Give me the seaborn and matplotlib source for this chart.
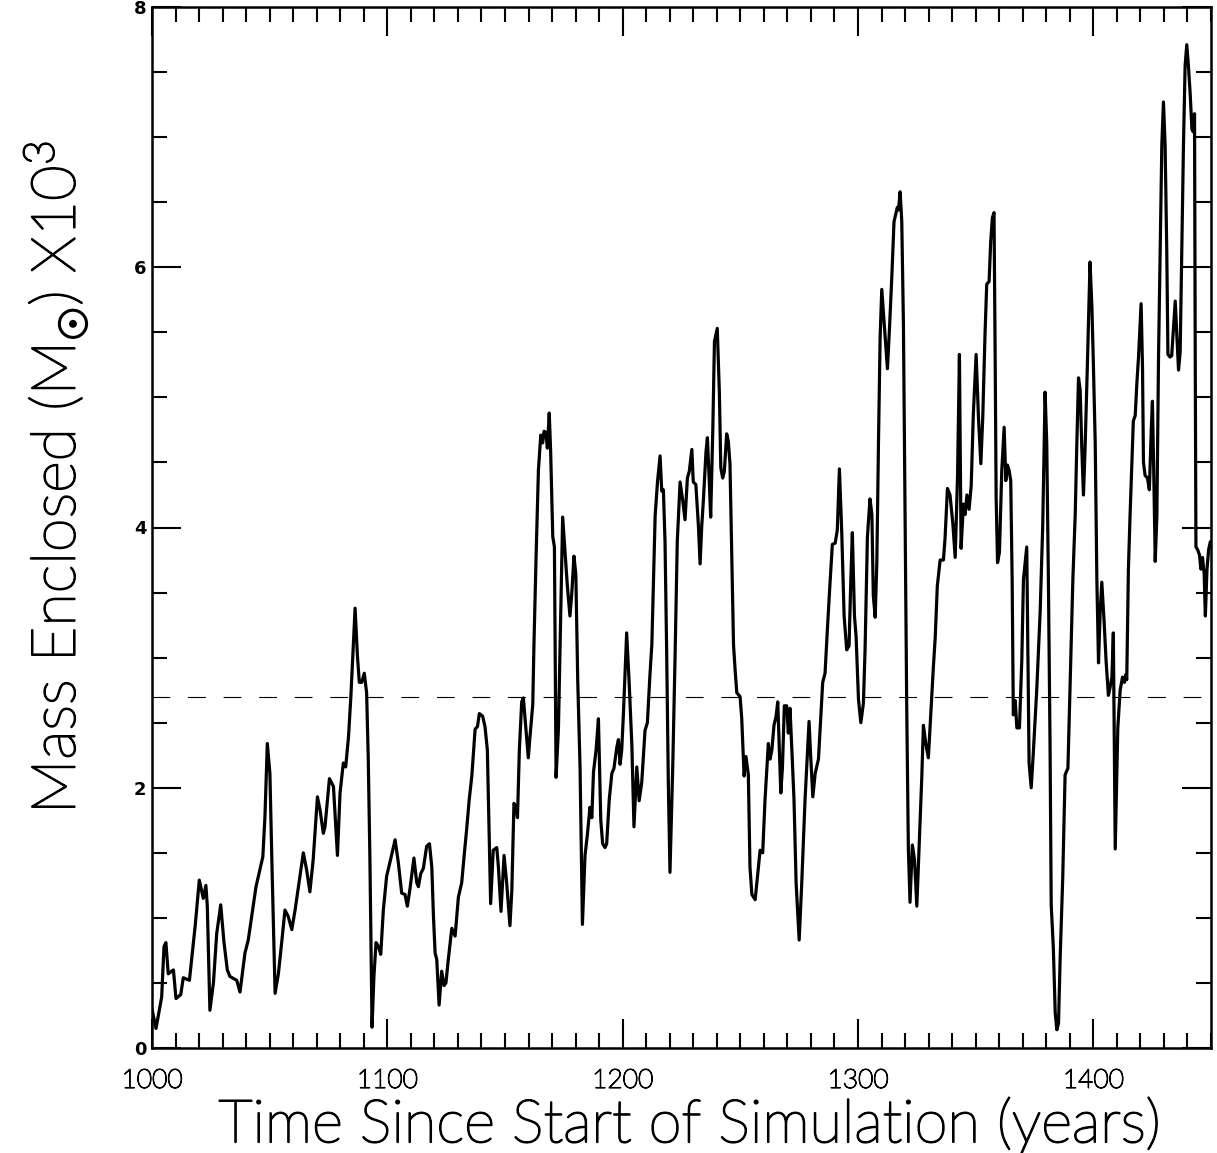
import numpy as np
import pandas as pd
import matplotlib
matplotlib.use("Agg")
import matplotlib.pyplot as plt
import matplotlib.patheffects as pe
from matplotlib.ticker import MultipleLocator
import seaborn as sns

# ---- data ----
years = [
    1000.0, 1001.7, 1004.1, 1005.1, 1005.9, 1006.9, 1009.1, 1010.2, 1012.2, 1013.3,
    1015.9, 1018.3, 1020.1, 1021.8, 1022.9, 1023.5, 1024.6, 1026.1, 1027.5, 1029.2,
    1030.6, 1032.0, 1033.1, 1036.0, 1037.4, 1039.5, 1040.9, 1044.2, 1047.1, 1048.0,
    1049.0, 1050.1, 1051.0,
    1052.3, 1053.7, 1055.1, 1056.5, 1057.9, 1059.4, 1060.8, 1064.3, 1065.7, 1067.1,
    1068.5, 1070.3, 1071.4, 1072.8, 1073.5, 1075.4, 1077.1, 1078.8, 1079.9, 1081.3,
    1082.3, 1083.5, 1084.5, 1086.3, 1087.3, 1088.1, 1089.1, 1090.2, 1091.2, 1091.9,
    1092.6, 1093.5, 1094.3, 1095.2, 1096.2, 1097.2, 1098.3, 1099.7,
    1101.4, 1103.3, 1104.7, 1106.1, 1107.5, 1108.5, 1109.6, 1111.3, 1112.5, 1113.2,
    1114.2, 1115.3, 1116.7, 1117.9, 1118.9, 1119.6, 1120.3, 1121.0, 1122.0, 1123.1,
    1124.1, 1124.9, 1125.9, 1127.4, 1128.8, 1130.2, 1131.6, 1132.6, 1133.7, 1134.8,
    1135.9, 1137.3, 1138.3, 1139.1, 1140.5, 1141.5, 1142.5, 1143.4, 1143.9, 1145.0,
    1146.5, 1147.2, 1148.3, 1149.6, 1150.7,
    1152.1, 1152.9, 1153.8, 1154.7, 1155.3, 1156.1, 1157.1, 1157.8, 1158.9, 1159.9,
    1160.6, 1161.8, 1162.3, 1163.2, 1164.2, 1165.2, 1166.0, 1166.6, 1167.4, 1168.0,
    1168.8, 1169.4, 1170.3, 1171.0, 1171.7, 1172.7, 1173.4, 1174.5, 1175.5, 1176.5,
    1177.6, 1178.4, 1179.3, 1180.1, 1180.9, 1181.9, 1182.9, 1184.0, 1185.0, 1186.1,
    1186.9, 1187.6, 1188.7, 1189.7, 1190.7, 1191.5, 1192.5, 1193.2, 1194.3, 1195.4,
    1196.3, 1197.5, 1198.2, 1198.9, 1199.6, 1200.3, 1201.7, 1202.7,
    1203.9, 1204.8, 1206.0, 1207.0, 1208.1, 1209.5, 1210.5, 1211.6, 1212.4, 1213.1,
    1213.8, 1214.8, 1215.9, 1216.6, 1217.3, 1218.0, 1218.7, 1219.4, 1220.1, 1221.3,
    1222.3, 1223.2, 1224.4, 1225.5, 1226.5, 1227.5, 1228.3, 1229.4, 1230.0, 1231.1,
    1232.2, 1232.9, 1233.6, 1234.3, 1235.4, 1236.0, 1236.7, 1237.4, 1238.3, 1239.0,
    1239.7, 1240.2, 1241.1, 1241.7, 1242.5, 1243.2, 1244.2, 1244.9, 1245.6, 1246.4,
    1247.1, 1247.8, 1248.5, 1249.9, 1250.6, 1251.6, 1252.4, 1253.4,
    1254.1, 1254.9, 1256.3, 1257.3, 1258.4, 1259.5, 1260.5, 1261.9, 1262.6, 1263.4,
    1264.3, 1265.2, 1265.9, 1266.6, 1267.2, 1267.9, 1268.7, 1269.7, 1270.4, 1271.1,
    1271.9, 1272.8, 1273.7, 1275.0, 1276.1, 1277.5, 1279.2, 1279.9, 1280.8, 1281.8,
    1283.2, 1284.2, 1285.0, 1286.0, 1287.0, 1288.1, 1289.1, 1290.3, 1291.2, 1292.1,
    1293.1, 1294.1, 1295.2, 1296.2, 1296.9, 1297.6, 1298.5, 1299.2, 1300.2, 1301.2,
    1302.3, 1303.0, 1304.0, 1305.1,
    1305.9, 1306.5, 1307.3, 1308.0, 1308.7, 1309.4, 1310.1, 1310.8, 1311.5, 1312.5,
    1313.3, 1314.4, 1315.3, 1316.2, 1316.7, 1317.2, 1317.9, 1318.6, 1319.3, 1320.0,
    1320.7, 1321.4, 1322.1, 1323.1, 1324.0, 1325.0, 1326.1, 1327.1, 1327.8, 1328.8,
    1329.9, 1330.9, 1332.0, 1332.8, 1333.7, 1334.9, 1336.3, 1337.0, 1338.0, 1339.1,
    1340.3, 1341.3, 1342.3, 1343.1, 1343.8, 1344.8, 1345.5, 1346.3, 1347.2, 1348.1,
    1349.0, 1350.2, 1351.2, 1352.2, 1353.0, 1354.0, 1354.7, 1355.7, 1356.4, 1357.1,
    1357.8,
    1358.3, 1358.7, 1359.3, 1360.1, 1361.1, 1362.1, 1362.8, 1363.5, 1364.2, 1364.9,
    1365.5, 1366.0, 1366.8, 1367.5, 1368.6, 1369.6, 1370.3, 1371.7, 1372.2, 1372.7,
    1373.6, 1374.5, 1376.0, 1377.4, 1378.5, 1379.5, 1380.2, 1380.9, 1381.6, 1382.1,
    1383.0, 1383.8, 1384.5, 1385.2, 1385.9, 1387.0, 1388.0, 1389.2, 1390.1, 1391.3,
    1392.3, 1393.0, 1393.7, 1394.4, 1395.1, 1395.8, 1396.5, 1397.5, 1398.6, 1399.4,
    1400.0, 1400.8, 1401.5, 1402.2, 1402.9, 1403.6, 1404.6, 1405.4, 1406.4, 1407.1,
    1407.9, 1408.5,
    1409.3, 1410.4, 1411.4, 1412.4, 1413.2, 1413.8, 1414.2, 1414.9, 1415.6, 1416.4,
    1417.0, 1417.8, 1418.5, 1419.2, 1420.3, 1420.9, 1421.3, 1422.0, 1423.0, 1423.8,
    1424.6, 1425.1, 1425.6, 1426.3, 1427.0, 1427.7, 1428.4, 1429.1, 1429.8, 1430.5,
    1431.2, 1431.7, 1432.6, 1433.3, 1434.0, 1434.8, 1435.5, 1436.2, 1436.9, 1437.6,
    1438.3, 1439.0, 1439.7, 1440.4, 1441.1, 1441.9, 1442.5, 1443.0, 1443.3, 1443.6,
    1444.3, 1445.1, 1445.7, 1446.4, 1447.1, 1447.6, 1448.3, 1449.0, 1449.7,
]

mass = [
    0.30, 0.15, 0.39, 0.78, 0.81, 0.57, 0.60, 0.38, 0.41, 0.54,
    0.52, 0.93, 1.29, 1.15, 1.25, 1.09, 0.29, 0.50, 0.88, 1.10,
    0.81, 0.60, 0.55, 0.52, 0.43, 0.73, 0.83, 1.24, 1.47, 1.78,
    2.34, 2.11, 1.39,
    0.42, 0.57, 0.81, 1.06, 1.01, 0.91, 1.06, 1.50, 1.37, 1.20,
    1.45, 1.93, 1.83, 1.65, 1.70, 2.07, 2.01, 1.48, 1.96, 2.19,
    2.16, 2.39, 2.70, 3.38, 3.01, 2.81, 2.81, 2.88, 2.73, 2.22,
    1.45, 0.16, 0.55, 0.81, 0.78, 0.72, 1.06, 1.32,
    1.45, 1.60, 1.42, 1.19, 1.18, 1.09, 1.22, 1.46, 1.27, 1.24,
    1.34, 1.38, 1.55, 1.57, 1.39, 1.01, 0.73, 0.68, 0.33, 0.59,
    0.48, 0.50, 0.68, 0.92, 0.86, 1.16, 1.27, 1.47, 1.68, 1.91,
    2.09, 2.45, 2.47, 2.57, 2.55, 2.47, 2.29, 1.55, 1.11, 1.52,
    1.54, 1.39, 1.05, 1.48, 1.27,
    0.94, 1.21, 1.88, 1.85, 1.77, 2.29, 2.66, 2.69, 2.45, 2.23,
    2.39, 2.64, 3.10, 3.77, 4.44, 4.71, 4.65, 4.74, 4.73, 4.61,
    4.88, 4.58, 3.93, 3.85, 2.08, 2.45, 3.10, 4.08, 3.82, 3.55,
    3.32, 3.50, 3.78, 3.64, 2.83, 2.15, 0.95, 1.48, 1.64, 1.85,
    1.77, 2.12, 2.29, 2.53, 1.75, 1.57, 1.54, 1.57, 1.91, 2.11,
    2.15, 2.31, 2.37, 2.18, 2.29, 2.56, 3.19, 2.83,
    2.33, 1.70, 2.16, 1.90, 2.04, 2.44, 2.50, 2.87, 3.10, 3.61,
    4.09, 4.35, 4.55, 4.28, 4.29, 3.89, 3.04, 2.04, 1.35, 2.18,
    3.04, 3.89, 4.35, 4.21, 4.06, 4.38, 4.43, 4.60, 4.35, 4.33,
    4.01, 3.72, 4.01, 4.21, 4.58, 4.69, 4.40, 4.08, 4.75, 5.43,
    5.49, 5.53, 5.03, 4.46, 4.38, 4.43, 4.72, 4.66, 4.49, 3.75,
    3.10, 2.90, 2.73, 2.70, 2.53, 2.09, 2.24, 2.10,
    1.39, 1.18, 1.14, 1.32, 1.52, 1.50, 1.91, 2.34, 2.22, 2.29,
    2.48, 2.55, 2.66, 2.29, 1.96, 2.16, 2.63, 2.63, 2.42, 2.61,
    2.29, 1.91, 1.27, 0.83, 1.27, 1.91, 2.51, 2.24, 1.93, 2.11,
    2.22, 2.55, 2.81, 2.88, 3.22, 3.57, 3.87, 3.88, 3.98, 4.45,
    3.96, 3.32, 3.06, 3.09, 3.57, 3.96, 3.32, 3.16, 2.68, 2.50,
    2.65, 3.06, 3.93, 4.22,
    4.10, 3.48, 3.31, 3.73, 4.65, 5.46, 5.83, 5.65, 5.46, 5.22,
    5.50, 5.94, 6.35, 6.42, 6.46, 6.44, 6.58, 6.35, 5.57, 4.10,
    2.63, 1.53, 1.12, 1.56, 1.45, 1.09, 1.60, 2.08, 2.48, 2.34,
    2.23, 2.56, 2.92, 3.15, 3.55, 3.75, 3.75, 3.92, 4.30, 4.25,
    4.03, 3.77, 4.40, 5.33, 3.84, 4.18, 4.10, 4.25, 4.14, 4.32,
    4.87, 5.33, 4.84, 4.49, 4.84, 5.50, 5.87, 5.89, 6.20, 6.38,
    6.42,
    5.27, 4.23, 3.73, 3.81, 4.44, 4.77, 4.36, 4.48, 4.44, 4.36,
    3.60, 2.56, 2.67, 2.46, 2.46, 2.98, 3.60, 3.85, 2.98, 2.19,
    2.00, 2.27, 2.77, 3.35, 4.02, 5.04, 4.65, 3.60, 2.35, 1.10,
    0.77, 0.27, 0.14, 0.19, 0.69, 1.31, 2.10, 2.15, 2.77, 3.60,
    4.10, 4.65, 5.15, 5.06, 4.61, 4.25, 4.61, 5.27, 6.04, 5.69,
    5.27, 4.65, 3.60, 2.96, 3.35, 3.58, 3.27, 2.98, 2.71, 2.77,
    2.85, 3.19,
    1.53, 2.46, 2.75, 2.85, 2.81, 2.87, 2.83, 3.68, 4.09, 4.50,
    4.82, 4.86, 5.11, 5.31, 5.72, 5.23, 4.50, 4.40, 4.38, 4.29,
    4.74, 4.97, 4.50, 3.74, 4.09, 5.31, 6.13, 6.94, 7.27, 6.94,
    6.13, 5.33, 5.31, 5.32, 5.52, 5.74, 5.47, 5.21, 5.35, 6.13,
    6.94, 7.55, 7.71, 7.55, 7.35, 7.06, 7.04, 7.18, 5.31, 3.85,
    3.83, 3.79, 3.68, 3.77, 3.64, 3.32, 3.68, 3.83, 3.89,
]

threshold = 2.7
xtick_values = [1000, 1100, 1200, 1300, 1400]
ytick_values = [0, 2, 4, 6, 8]
xlabel_text = "Time Since Start of Simulation (years)"
ylabel_text = r"Mass Enclosed (M$_{\odot}$) X10$^{\mathrm{3}}$"

df = pd.DataFrame({"year": years, "mass": mass})

# ---- style ----
sns.set_style("ticks")
plt.rcParams["font.family"] = ["Lato", "DejaVu Sans"]
plt.rcParams["mathtext.fontset"] = "custom"
plt.rcParams["mathtext.rm"] = "Lato:light"
plt.rcParams["mathtext.it"] = "Lato:light"
plt.rcParams["mathtext.sf"] = "Lato:light"
plt.rcParams["mathtext.fallback"] = "cm"
for key in ["text.color", "axes.labelcolor", "xtick.color", "ytick.color",
            "axes.edgecolor"]:
    plt.rcParams[key] = "black"

fig = plt.figure(figsize=(12.17, 11.53), dpi=100)
ax = fig.add_axes([152 / 1217, 105 / 1153, 1059 / 1217, 1041 / 1153])

sns.lineplot(data=df, x="year", y="mass", ax=ax, color="black",
             linewidth=2.3, estimator=None, sort=False)
ax.axhline(threshold, color="black", linewidth=0.8, linestyle=(0, (16, 16)))

ax.set_xlim(1000, 1450)
ax.set_ylim(0, 8)
ax.set_xticks(xtick_values)
ax.set_yticks(ytick_values)
ax.xaxis.set_minor_locator(MultipleLocator(10))
ax.yaxis.set_minor_locator(MultipleLocator(0.5))

ax.tick_params(which="both", direction="in", top=True, right=True,
               width=1.5, color="black")
ax.tick_params(which="major", length=21)
ax.tick_params(which="minor", length=11)
ax.tick_params(axis="x", which="major", pad=15, labelsize=19, labelcolor="black")
ax.tick_params(axis="y", which="major", pad=4, labelsize=13, labelcolor="black")

thin_stroke_small = [pe.withStroke(linewidth=0.9, foreground="black")]
thin_stroke_big = [pe.withStroke(linewidth=1.3, foreground="black")]
for lab in ax.get_xticklabels():
    lab.set_fontweight("light")
    lab.set_path_effects(thin_stroke_small)
for lab in ax.get_yticklabels():
    lab.set_fontweight("bold")
    lab.set_family(["DejaVu Sans"])

for sp in ax.spines.values():
    sp.set_linewidth(1.8)
    sp.set_color("black")

ax.set_xlabel(xlabel_text, fontsize=43, fontweight="light", color="black",
              ha="center", va="center", path_effects=thin_stroke_big)
ax.xaxis.set_label_coords(0.508, -0.074)
ax.set_ylabel(ylabel_text, fontsize=44, fontweight="light", color="black",
              ha="center", va="center", path_effects=thin_stroke_big)
ax.yaxis.set_label_coords(-0.092, 0.548)

fig.savefig("out.png", dpi=100)
